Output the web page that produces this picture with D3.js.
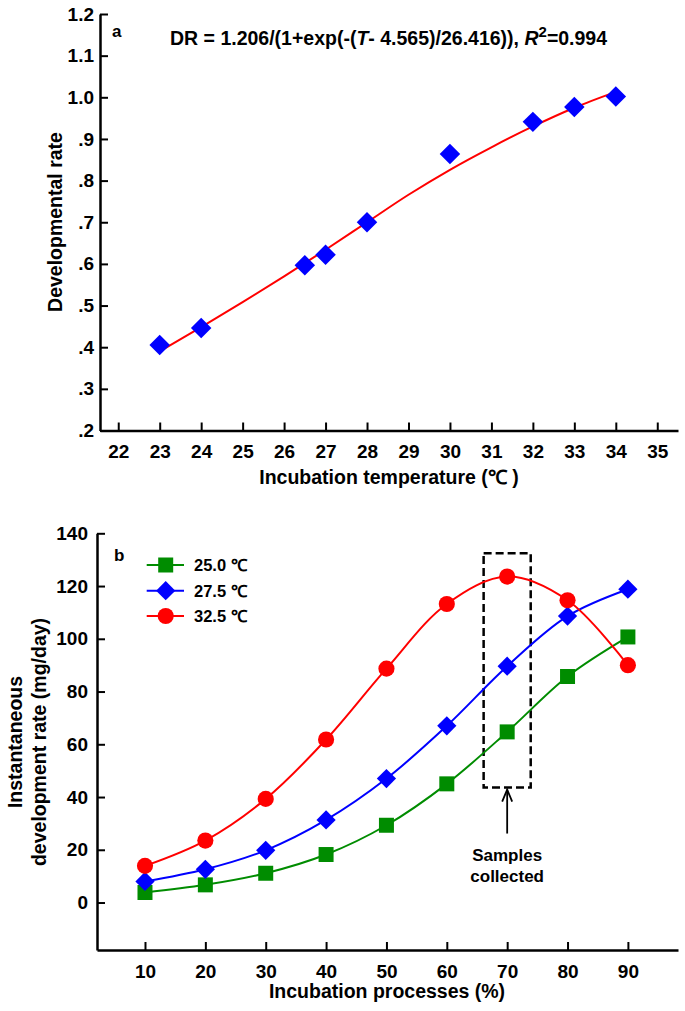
<!DOCTYPE html>
<html><head><meta charset="utf-8">
<script src="https://cdn.jsdelivr.net/npm/d3@7/dist/d3.min.js"></script>
<style>
body{margin:0;background:#fff;}
svg{display:block;font-family:"Liberation Sans",Arial,sans-serif;font-weight:bold;}
</style></head>
<body><svg id="c" width="685" height="1011"></svg>
<script>
// ---- Panel a data ----
const tempsObserved = [23, 24, 26.5, 27, 28, 30, 32, 33, 34];
const ratesObserved = [0.405, 0.446, 0.597, 0.622, 0.700, 0.864, 0.941, 0.977, 1.002];
const tempsFit = [23, 24, 25, 26, 27, 28, 29, 30, 31, 32, 33, 34];
const ratesFit = [0.390, 0.448, 0.508, 0.570, 0.634, 0.700, 0.766, 0.826, 0.880, 0.930, 0.975, 1.013];
const topXTicks = [22, 23, 24, 25, 26, 27, 28, 29, 30, 31, 32, 33, 34, 35];
const topYTicks = [0.2, 0.3, 0.4, 0.5, 0.6, 0.7, 0.8, 0.9, 1.0, 1.1, 1.2];
const topYTickLabels = [".2", ".3", ".4", ".5", ".6", ".7", ".8", ".9", "1.0", "1.1", "1.2"];

// ---- Panel b data ----
const processes = [10, 20, 30, 40, 50, 60, 70, 80, 90];
const seriesNames = ["25.0 ℃", "27.5 ℃", "32.5 ℃"];
const rate25 = [3.8, 6.7, 11.1, 18.2, 29.3, 45.0, 64.7, 85.7, 100.7];
const rate275 = [8.0, 12.6, 19.8, 31.3, 47.0, 67.0, 89.6, 108.6, 118.8];
const rate325 = [13.9, 23.5, 39.3, 61.8, 88.7, 113.2, 123.6, 114.6, 90.0];
const bottomXTicks = [10, 20, 30, 40, 50, 60, 70, 80, 90];
const bottomYTicks = [0, 20, 40, 60, 80, 100, 120, 140];
const sampleBoxX = [66.1, 73.9];
const sampleBoxY = [43.6, 132.4];

const svg = d3.select("#c");
const FS = 19;      // tick labels
const TS = 19.5;    // titles

// ================= Panel a =================
const xA = d3.scaleLinear().domain([21.56, 35.5]).range([100, 678]);
const yA = d3.scaleLinear().domain([0.2, 1.2]).range([430.5, 14]);

function styleAxis(g, w){
  g.select(".domain").attr("stroke","#000").attr("stroke-width",w);
  g.selectAll(".tick line").attr("stroke","#000").attr("stroke-width",2);
  g.selectAll(".tick text").attr("fill","#000").attr("font-size",FS).attr("font-weight","bold")
    .attr("font-family","'Liberation Sans',Arial,sans-serif");
}

const gxA = svg.append("g").attr("transform",`translate(0,${yA(0.2)})`)
  .call(d3.axisBottom(xA).tickValues(topXTicks).tickFormat(d3.format("d"))
    .tickSizeInner(-8).tickSizeOuter(0).tickPadding(14));
styleAxis(gxA, 2.5);
const gyA = svg.append("g").attr("transform",`translate(${xA.range()[0]},0)`)
  .call(d3.axisLeft(yA).tickValues(topYTicks).tickFormat((d,i)=>topYTickLabels[i])
    .tickSizeInner(-8).tickSizeOuter(0).tickPadding(6));
styleAxis(gyA, 2.5);

svg.append("path")
  .datum(tempsFit.map((t,i)=>[t, ratesFit[i]]))
  .attr("fill","none").attr("stroke","#ff0000").attr("stroke-width",2)
  .attr("d", d3.line().x(d=>xA(d[0])).y(d=>yA(d[1])).curve(d3.curveMonotoneX));

svg.append("g").selectAll("path")
  .data(tempsObserved.map((t,i)=>[t, ratesObserved[i]]))
  .join("path")
  .attr("d", d3.symbol(d3.symbolSquare, 210))
  .attr("transform", d=>`translate(${xA(d[0])},${yA(d[1])}) rotate(45)`)
  .attr("fill","#0000ff");

svg.append("text").attr("x",112).attr("y",37).attr("font-size",17).text("a");

const eq = svg.append("text").attr("x",170).attr("y",45).attr("font-size",TS);
eq.append("tspan").text("DR = 1.206/(1+exp(-(");
eq.append("tspan").attr("font-style","italic").text("T");
eq.append("tspan").text("- 4.565)/26.416)), ");
eq.append("tspan").attr("font-style","italic").text("R");
eq.append("tspan").attr("font-size",15).attr("dy",-8).text("2");
eq.append("tspan").attr("dy",8).text("=0.994");

svg.append("text").attr("x",389).attr("y",484).attr("text-anchor","middle")
  .attr("font-size",TS).text("Incubation temperature (℃ )");
svg.append("text").attr("transform","translate(62,222) rotate(-90)")
  .attr("text-anchor","middle").attr("font-size",TS).text("Developmental rate");

// ================= Panel b =================
const xB = d3.scaleLinear().domain([2.05, 98.3]).range([97, 678]);
const yB = d3.scaleLinear().domain([-18, 140]).range([950, 533.3]);

const gxB = svg.append("g").attr("transform",`translate(0,${yB(-18)})`)
  .call(d3.axisBottom(xB).tickValues(bottomXTicks).tickFormat(d3.format("d"))
    .tickSizeInner(-8).tickSizeOuter(0).tickPadding(14.5));
styleAxis(gxB, 2.5);
const gyB = svg.append("g").attr("transform",`translate(${xB.range()[0]},0)`)
  .call(d3.axisLeft(yB).tickValues(bottomYTicks).tickFormat(d3.format("d"))
    .tickSizeInner(-8).tickSizeOuter(0).tickPadding(9));
styleAxis(gyB, 2.5);

const colors = ["#008c00", "#0000ff", "#ff0000"];
const seriesData = [rate25, rate275, rate325];
const symbols = [
  {type:d3.symbolSquare, size:225, rot:0},
  {type:d3.symbolSquare, size:185, rot:45},
  {type:d3.symbolCircle, size:205, rot:0}
];
const lineB = d3.line().x(d=>xB(d[0])).y(d=>yB(d[1])).curve(d3.curveCatmullRom.alpha(0.5));

// dashed sample box
svg.append("rect")
  .attr("x", xB(sampleBoxX[0])).attr("y", yB(sampleBoxY[1]))
  .attr("width", xB(sampleBoxX[1]) - xB(sampleBoxX[0]))
  .attr("height", yB(sampleBoxY[0]) - yB(sampleBoxY[1]))
  .attr("fill","none").attr("stroke","#000").attr("stroke-width",2.5)
  .attr("stroke-dasharray","8,4");

seriesData.forEach((vals, k)=>{
  const pts = processes.map((p,i)=>[p, vals[i]]);
  svg.append("path").datum(pts).attr("fill","none").attr("stroke",colors[k])
    .attr("stroke-width",2).attr("d", lineB);
});
seriesData.forEach((vals, k)=>{
  const pts = processes.map((p,i)=>[p, vals[i]]);
  svg.append("g").selectAll("path").data(pts).join("path")
    .attr("d", d3.symbol(symbols[k].type, symbols[k].size))
    .attr("transform", d=>`translate(${xB(d[0])},${yB(d[1])}) rotate(${symbols[k].rot})`)
    .attr("fill", colors[k]);
});

// arrow + annotation
const ax = xB(70);
const arrowTop = yB(sampleBoxY[0]) + 2;
svg.append("line").attr("x1",ax).attr("x2",ax).attr("y1",arrowTop).attr("y2",arrowTop+44)
  .attr("stroke","#000").attr("stroke-width",1.8);
svg.append("path").attr("d",`M${ax-5},${arrowTop+12} L${ax},${arrowTop} L${ax+5},${arrowTop+12}`)
  .attr("fill","none").attr("stroke","#000").attr("stroke-width",1.8);
svg.append("text").attr("x",ax).attr("y",861).attr("text-anchor","middle").attr("font-size",17).text("Samples");
svg.append("text").attr("x",ax).attr("y",882).attr("text-anchor","middle").attr("font-size",17).text("collected");

// legend
svg.append("text").attr("x",114).attr("y",561).attr("font-size",17).text("b");
const legY = [565, 590.7, 616];
seriesNames.forEach((name,k)=>{
  const g = svg.append("g").attr("transform",`translate(0,${legY[k]})`);
  g.append("line").attr("x1",146.7).attr("x2",184).attr("stroke",colors[k]).attr("stroke-width",2);
  g.append("path").attr("d", d3.symbol(symbols[k].type, symbols[k].size))
    .attr("transform",`translate(165.7,0) rotate(${symbols[k].rot})`).attr("fill",colors[k]);
  g.append("text").attr("x",194).attr("y",6).attr("font-size",16.5).text(name);
});

svg.append("text").attr("x",387).attr("y",998).attr("text-anchor","middle")
  .attr("font-size",TS).text("Incubation processes (%)");
const yt = svg.append("text").attr("transform","translate(0,742) rotate(-90)")
  .attr("text-anchor","middle").attr("font-size",TS);
yt.append("tspan").attr("x",0).attr("y",22).text("Instantaneous");
yt.append("tspan").attr("x",0).attr("y",46).text("development rate (mg/day)");
</script>
</body></html>
